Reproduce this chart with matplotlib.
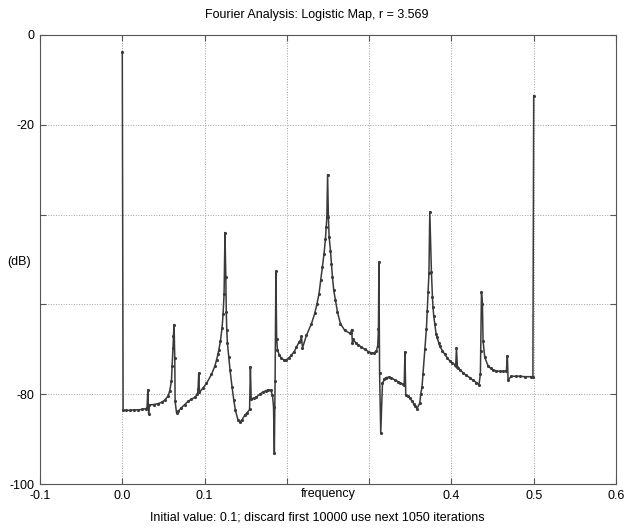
import matplotlib
matplotlib.use("Agg")
import matplotlib.pyplot as plt

plt.rcParams['font.family'] = ['Liberation Sans', 'DejaVu Sans']

# spectrum (frequency, power in dB)
freq = [0.0000, 0.0010, 0.0050, 0.0091, 0.0140, 0.0188, 0.0240, 0.0286, 0.0301,
        0.0310, 0.0320, 0.0328, 0.0380, 0.0435, 0.0480, 0.0516, 0.0557, 0.0577,
        0.0598, 0.0605, 0.0617, 0.0622, 0.0629, 0.0638, 0.0642, 0.0659, 0.0680,
        0.0719, 0.0760, 0.0800, 0.0840, 0.0881, 0.0914, 0.0921, 0.0929, 0.0938,
        0.0982, 0.1023, 0.1084, 0.1124, 0.1145, 0.1164, 0.1173, 0.1193, 0.1213,
        0.1225, 0.1237, 0.1248, 0.1258, 0.1264, 0.1270, 0.1278, 0.1294, 0.1310,
        0.1334, 0.1355, 0.1375, 0.1407, 0.1428, 0.1455, 0.1488, 0.1515, 0.1547,
        0.1557, 0.1566, 0.1600, 0.1631, 0.1670, 0.1711, 0.1750, 0.1772, 0.1804,
        0.1825, 0.1838, 0.1848, 0.1857, 0.1867, 0.1876, 0.1886, 0.1910, 0.1934,
        0.1960, 0.1987, 0.2020, 0.2056, 0.2090, 0.2117, 0.2148, 0.2163, 0.2177,
        0.2190, 0.2238, 0.2299, 0.2339, 0.2367, 0.2391, 0.2412, 0.2433, 0.2452,
        0.2469, 0.2478, 0.2486, 0.2495, 0.2505, 0.2514, 0.2530, 0.2542, 0.2554,
        0.2570, 0.2591, 0.2615, 0.2651, 0.2704, 0.2764, 0.2776, 0.2787, 0.2797,
        0.2806, 0.2835, 0.2865, 0.2905, 0.2947, 0.2990, 0.3028, 0.3060, 0.3089,
        0.3104, 0.3113, 0.3119, 0.3127, 0.3141, 0.3162, 0.3185, 0.3205, 0.3240,
        0.3271, 0.3310, 0.3351, 0.3380, 0.3412, 0.3426, 0.3435, 0.3445, 0.3470,
        0.3493, 0.3520, 0.3542, 0.3562, 0.3582, 0.3615, 0.3627, 0.3642, 0.3655,
        0.3678, 0.3696, 0.3706, 0.3716, 0.3727, 0.3737, 0.3757, 0.3769, 0.3776,
        0.3785, 0.3797, 0.3813, 0.3825, 0.3849, 0.3858, 0.3890, 0.3919, 0.3950,
        0.3980, 0.4010, 0.4040, 0.4052, 0.4061, 0.4073, 0.4080, 0.4110, 0.4141,
        0.4180, 0.4222, 0.4260, 0.4304, 0.4335, 0.4352, 0.4356, 0.4365, 0.4377,
        0.4384, 0.4405, 0.4445, 0.4475, 0.4505, 0.4545, 0.4587, 0.4630, 0.4668,
        0.4680, 0.4688, 0.4729, 0.4780, 0.4830, 0.4900, 0.4972, 0.4990, 0.5000]
power_db = [-3.7, -83.6, -83.6, -83.6, -83.5, -83.5, -83.4, -83.2, -83.0,
            -79.1, -84.3, -82.4, -82.3, -82.1, -81.8, -81.3, -80.4, -79.2,
            -77.0, -73.8, -69.6, -67.0, -64.5, -72.0, -81.6, -84.1, -83.8,
            -83.0, -82.3, -81.6, -81.1, -80.7, -80.0, -78.8, -75.3, -79.6,
            -78.6, -77.6, -75.6, -73.8, -72.4, -71.0, -70.2, -68.1, -65.2,
            -62.1, -57.7, -44.0, -53.9, -61.7, -65.8, -68.7, -71.7, -74.7,
            -78.4, -81.3, -83.6, -85.8, -86.2, -85.7, -84.7, -84.2, -83.4,
            -73.9, -81.0, -80.9, -80.6, -80.0, -79.5, -79.2, -79.0, -79.1,
            -80.2, -82.8, -93.0, -77.0, -52.6, -67.6, -70.2, -71.3, -72.0,
            -72.3, -72.4, -72.0, -71.3, -70.5, -69.5, -68.4, -68.2, -67.1,
            -69.7, -66.9, -64.3, -62.0, -59.8, -57.6, -54.6, -51.7, -48.7,
            -45.4, -42.8, -40.6, -31.1, -40.6, -45.0, -48.0, -50.9, -53.9,
            -56.9, -59.1, -61.7, -64.3, -65.8, -66.4, -66.4, -65.6, -68.7,
            -67.8, -68.5, -69.0, -69.5, -70.0, -70.5, -70.8, -70.8, -70.3,
            -69.2, -65.5, -50.6, -75.3, -88.6, -77.6, -76.6, -76.3, -76.2,
            -76.4, -76.8, -77.2, -77.5, -77.8, -78.0, -70.6, -80.2, -80.5,
            -80.8, -81.5, -82.1, -82.7, -83.2, -82.0, -79.9, -78.5, -75.4,
            -70.0, -65.4, -61.5, -57.2, -53.0, -39.4, -52.8, -58.3, -60.6,
            -62.6, -64.3, -66.5, -67.3, -68.7, -69.3, -70.3, -71.1, -71.9,
            -72.6, -73.0, -73.4, -73.7, -69.7, -74.0, -74.2, -74.7, -75.2,
            -75.8, -76.3, -76.9, -77.4, -77.9, -75.5, -70.3, -57.3, -59.9,
            -68.1, -71.8, -73.7, -74.2, -74.6, -74.8, -74.9, -74.9, -74.8,
            -71.4, -76.8, -76.0, -76.0, -76.0, -76.1, -76.1, -76.1, -13.5]

x_ticks = [-0.1, 0.0, 0.1, 0.2, 0.3, 0.4, 0.5, 0.6]
x_labels = ['-0.1', '0.0', '0.1', '', '', '0.4', '0.5', '0.6']
y_ticks = [-100, -80, -60, -40, -20, 0]
y_labels = ['-100', '-80', '', '', '-20', '0']

fig = plt.figure(figsize=(6.34, 5.31), dpi=100)
ax = fig.add_axes([40 / 634, 1 - 484 / 531, 576 / 634, 449 / 531])

ax.plot(freq, power_db, color='#3a3a3a', linewidth=1.1,
        marker='.', markersize=2.5)

ax.set_xlim(-0.1, 0.6)
ax.set_ylim(-100, 0)
ax.set_xticks(x_ticks)
ax.set_xticklabels(x_labels)
ax.set_yticks(y_ticks)
ax.set_yticklabels(y_labels)
ax.grid(True, linestyle=':', color='#a0a0a0', linewidth=0.7)
ax.tick_params(direction='in', length=4, top=True, right=True,
               labelsize=9, color='#555555', pad=4)
for s in ax.spines.values():
    s.set_color('#555555')
    s.set_linewidth(0.8)

# MATLAB-style labels sitting in the tick label row
ax.text(0.25, -102.3, 'frequency', ha='center', va='center', fontsize=9)
ax.text(-0.125, -50.5, '(dB)', ha='center', va='center', fontsize=9)
fig.text(0.5, 1 - 15 / 531, 'Fourier Analysis: Logistic Map, r = 3.569',
         ha='center', va='center', fontsize=9)
fig.text(0.5, 1 - 518 / 531,
         'Initial value: 0.1; discard first 10000 use next 1050 iterations',
         ha='center', va='center', fontsize=9)

fig.savefig('out.png', dpi=100)
